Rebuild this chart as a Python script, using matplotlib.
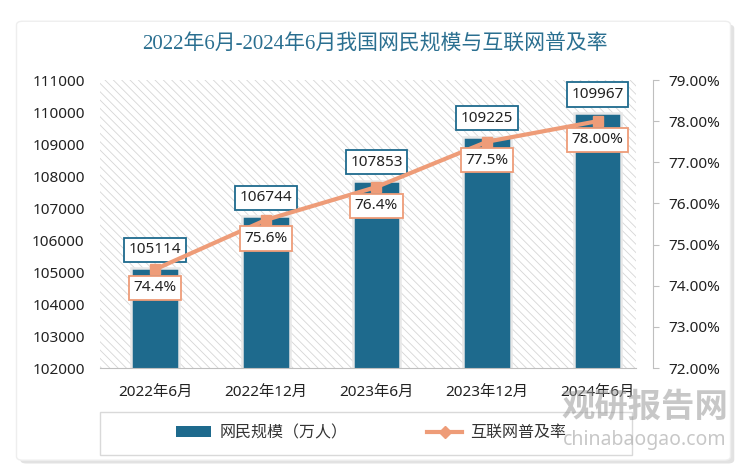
import matplotlib.pyplot as plt
import numpy as np
from matplotlib.patches import FancyBboxPatch, Rectangle
from matplotlib.lines import Line2D

plt.rcParams['font.family'] = ['Noto Sans', 'Noto Sans CJK SC']
plt.rcParams['hatch.linewidth'] = 0.6
plt.rcParams['hatch.color'] = '#d6d6d6'

periods = ["2022年6月", "2022年12月", "2023年6月", "2023年12月", "2024年6月"]
netizens = [105114, 106744, 107853, 109225, 109967]
rate = [74.4, 75.6, 76.4, 77.5, 78.0]
rate_labels = ["74.4%", "75.6%", "76.4%", "77.5%", "78.00%"]

bar_color = '#1e6a8d'
line_color = '#ee9c78'
title_color = '#2a6f90'

fig = plt.figure(figsize=(7.5, 4.72), dpi=100)

# card background with shadow
shadow = FancyBboxPatch((0.027, 0.018), 0.952, 0.93, boxstyle="round,pad=0,rounding_size=0.008",
                        transform=fig.transFigure, facecolor='#e2e2e2', edgecolor='none', zorder=-2)
card = FancyBboxPatch((0.022, 0.025), 0.952, 0.93, boxstyle="round,pad=0,rounding_size=0.008",
                      transform=fig.transFigure, facecolor='white', edgecolor='#eeeeee', zorder=-1)
fig.patches.extend([shadow, card])

fig.text(0.5, 0.905, "2022年6月-2024年6月我国网民规模与互联网普及率", ha='center', va='center',
         fontsize=15, color=title_color, family=['Liberation Serif', 'Noto Sans CJK SC'])

ax = fig.add_axes([0.1333, 0.2203, 0.7373, 0.6102])
ax.set_facecolor('none')
ax.add_patch(Rectangle((0, 0), 0.97, 1, transform=ax.transAxes, facecolor='white',
                       hatch='\\\\\\\\', edgecolor='#d6d6d6', linewidth=0, zorder=0))

x = np.arange(len(periods))
ax.bar(x, netizens, width=0.43, color=bar_color, edgecolor='#e8e8e8', linewidth=1.8, zorder=2)
ax.set_ylim(102000, 111000)
ax.set_yticks(np.arange(102000, 111001, 1000))
ax.set_xlim(-0.5, len(periods) - 0.5)
ax.set_xticks(x)
ax.set_xticklabels(periods, fontsize=11, color='#222222')
ax.tick_params(axis='y', length=0, labelsize=11, colors='#222222', pad=11)
ax.tick_params(axis='x', length=0, pad=12)
for s in ['top', 'left', 'right']:
    ax.spines[s].set_visible(False)
ax.spines['bottom'].set_color('#bfbfbf')
ax.spines['bottom'].set_bounds(-0.5, 4.35)

for xi, v in zip(x, netizens):
    ax.annotate(str(v), (xi, v), xytext=(0, 8), textcoords='offset points', ha='center',
                va='bottom', fontsize=11, color='#222222', zorder=6,
                bbox=dict(boxstyle='square,pad=0.3', facecolor='white', edgecolor=bar_color, linewidth=1.3))

ax2 = ax.twinx()
ax2.plot(x, rate, color=line_color, linewidth=3, marker='s', markersize=7, zorder=4)
ax2.set_ylim(72, 79)
ax2.set_yticks(np.arange(72, 79.01, 1))
ax2.set_yticklabels([f"{v:.2f}%" for v in np.arange(72, 79.01, 1)])
ax2.tick_params(axis='y', length=4, direction='out', labelsize=11, colors='#222222', pad=7)
ax2.tick_params(axis='y', color='#bfbfbf')
for s in ['top', 'left', 'bottom']:
    ax2.spines[s].set_visible(False)
ax2.spines['right'].set_color('#bfbfbf')

for xi, v, lab in zip(x, rate, rate_labels):
    ax2.annotate(lab, (xi, v), xytext=(0, -8), textcoords='offset points', ha='center',
                 va='top', fontsize=11, color='#222222', zorder=6,
                 bbox=dict(boxstyle='square,pad=0.3', facecolor='white', edgecolor=line_color, linewidth=1.3))

# legend box + legend
fig.patches.append(Rectangle((0.1333, 0.036), 0.709, 0.091, transform=fig.transFigure,
                             facecolor='white', edgecolor='#d9d9d9', linewidth=1, zorder=1))
handles = [Rectangle((0, 0), 1, 1, facecolor=bar_color),
           Line2D([0], [0], color=line_color, linewidth=3, marker='D', markersize=6)]
leg = fig.legend(handles, ["网民规模（万人）", "互联网普及率"], loc='center',
                 bbox_to_anchor=(0.495, 0.082), bbox_transform=fig.transFigure, ncol=2,
                 fontsize=11.5, frameon=False, columnspacing=5.0, handlelength=2.2,
                 handletextpad=0.5)
for t in leg.get_texts():
    t.set_color('#333333')

# watermark
fig.text(0.86, 0.135, "观研报告网", ha='center', va='center', fontsize=24, fontweight='bold',
         color='#9a9a9a', alpha=0.55, zorder=10)
fig.text(0.86, 0.068, "chinabaogao.com", ha='center', va='center', fontsize=14,
         color='#9a9a9a', alpha=0.55, zorder=10)

fig.savefig("out.png", dpi=100)
